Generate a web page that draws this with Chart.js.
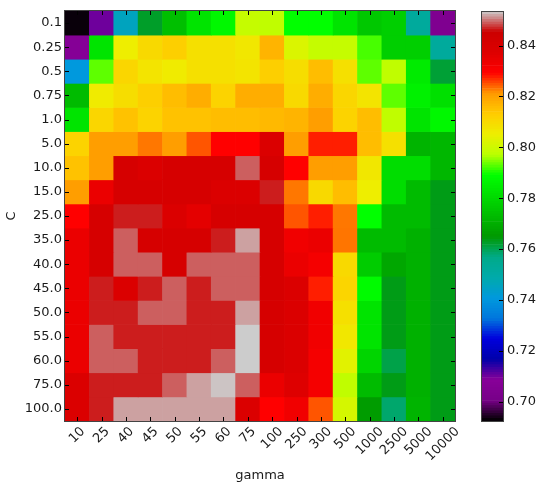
<!DOCTYPE html>
<html>
<head>
<meta charset="utf-8">
<script src="https://cdn.jsdelivr.net/npm/chart.js@4/dist/chart.umd.min.js"></script>
<style>
  body { margin: 0; background: #fff; }
  #cadre { position: relative; width: 550px; height: 487px; }
  #heatmap { position: absolute; left: 0; top: 0; }
  #barre { position: absolute; left: 470px; top: 0; }
</style>
</head>
<body>
<div id="cadre">
  <canvas id="heatmap" width="550" height="487"></canvas>
  <canvas id="barre" width="80" height="487"></canvas>
</div>
<script>
// Axes
const gammas = ["10", "25", "40", "45", "50", "55", "60", "75", "100", "250", "300", "500", "1000", "2500", "5000", "10000"];
const valeursC = ["0.1", "0.25", "0.5", "0.75", "1.0", "5.0", "10.0", "15.0", "25.0", "35.0", "40.0", "45.0", "50.0", "55.0", "60.0", "75.0", "100.0"];
const ticksBarre = [0.70, 0.72, 0.74, 0.76, 0.78, 0.80, 0.82, 0.84];

// Scores, une ligne par valeur de C (colonnes = gamma)
const scoresC0_1 = [0.6930, 0.7100, 0.7455, 0.7624, 0.7737, 0.7825, 0.7873, 0.7986, 0.7978, 0.7890, 0.7890, 0.7825, 0.7760, 0.7777, 0.7520, 0.7040];
const scoresC0_25 = [0.7069, 0.7825, 0.8050, 0.8099, 0.8123, 0.8083, 0.8083, 0.8066, 0.8168, 0.8018, 0.7986, 0.7986, 0.7920, 0.7777, 0.7777, 0.7520];
const scoresC0_5 = [0.7407, 0.7930, 0.8107, 0.8075, 0.8058, 0.8083, 0.8083, 0.8075, 0.8123, 0.8090, 0.8155, 0.8083, 0.7930, 0.7978, 0.7841, 0.7616];
const scoresC0_75 = [0.7729, 0.8058, 0.8090, 0.8123, 0.8155, 0.8180, 0.8115, 0.8180, 0.8180, 0.8099, 0.8180, 0.8107, 0.8075, 0.7930, 0.7857, 0.7817];
const scoresC1 = [0.7825, 0.8107, 0.8147, 0.8115, 0.8147, 0.8147, 0.8155, 0.8155, 0.8160, 0.8168, 0.8203, 0.8115, 0.8155, 0.7978, 0.7825, 0.7873];
const scoresC5 = [0.8115, 0.8203, 0.8203, 0.8229, 0.8203, 0.8247, 0.8292, 0.8292, 0.8380, 0.8203, 0.8276, 0.8276, 0.8155, 0.8083, 0.7713, 0.7720];
const scoresC10 = [0.8147, 0.8203, 0.8404, 0.8380, 0.8404, 0.8404, 0.8404, 0.8490, 0.8404, 0.8292, 0.8203, 0.8203, 0.8066, 0.7810, 0.7810, 0.7720];
const scoresC15 = [0.8203, 0.8340, 0.8404, 0.8404, 0.8404, 0.8404, 0.8380, 0.8380, 0.8464, 0.8229, 0.8099, 0.8155, 0.8050, 0.7810, 0.7729, 0.7635];
const scoresC25 = [0.8292, 0.8404, 0.8464, 0.8464, 0.8380, 0.8356, 0.8404, 0.8404, 0.8404, 0.8247, 0.8276, 0.8229, 0.7890, 0.7729, 0.7729, 0.7635];
const scoresC35 = [0.8340, 0.8404, 0.8490, 0.8404, 0.8404, 0.8404, 0.8464, 0.8516, 0.8404, 0.8324, 0.8340, 0.8230, 0.7729, 0.7729, 0.7705, 0.7635];
const scoresC40 = [0.8340, 0.8404, 0.8490, 0.8490, 0.8404, 0.8490, 0.8490, 0.8490, 0.8404, 0.8340, 0.8316, 0.8099, 0.7769, 0.7681, 0.7705, 0.7635];
const scoresC45 = [0.8340, 0.8464, 0.8380, 0.8464, 0.8490, 0.8464, 0.8490, 0.8490, 0.8404, 0.8380, 0.8276, 0.8110, 0.7880, 0.7635, 0.7705, 0.7635];
const scoresC50 = [0.8340, 0.8464, 0.8464, 0.8490, 0.8490, 0.8464, 0.8464, 0.8516, 0.8404, 0.8380, 0.8324, 0.8083, 0.7825, 0.7635, 0.7705, 0.7635];
const scoresC55 = [0.8340, 0.8490, 0.8464, 0.8464, 0.8464, 0.8464, 0.8464, 0.8533, 0.8404, 0.8380, 0.8324, 0.8066, 0.7825, 0.7635, 0.7705, 0.7635];
const scoresC60 = [0.8340, 0.8490, 0.8490, 0.8464, 0.8464, 0.8464, 0.8490, 0.8533, 0.8404, 0.8380, 0.8316, 0.8030, 0.7790, 0.7605, 0.7705, 0.7635];
const scoresC75 = [0.8380, 0.8464, 0.8464, 0.8464, 0.8490, 0.8516, 0.8530, 0.8490, 0.8340, 0.8370, 0.8316, 0.7978, 0.7729, 0.7635, 0.7705, 0.7635];
const scoresC100 = [0.8380, 0.8464, 0.8516, 0.8516, 0.8516, 0.8516, 0.8516, 0.8380, 0.8292, 0.8324, 0.8247, 0.8010, 0.7656, 0.7584, 0.7713, 0.7635];

const scores = [scoresC0_1, scoresC0_25, scoresC0_5, scoresC0_75, scoresC1, scoresC5, scoresC10, scoresC15,
  scoresC25, scoresC35, scoresC40, scoresC45, scoresC50, scoresC55, scoresC60, scoresC75, scoresC100];

const vmin = 0.6924;
const vmax = 0.8533;

// Palette nipy_spectral (21 points de 0 à 1)
const nipyR = [0, 0.4667, 0.5333, 0, 0, 0, 0, 0, 0, 0, 0, 0, 0, 0.7333, 0.9333, 1, 1, 1, 0.8667, 0.8, 0.8];
const nipyG = [0, 0, 0, 0, 0, 0.4667, 0.6, 0.6667, 0.6667, 0.6, 0.7333, 0.8667, 1, 1, 0.9333, 0.8, 0.6, 0, 0, 0, 0.8];
const nipyB = [0, 0.5333, 0.6, 0.6667, 0.8667, 0.8667, 0.8667, 0.6667, 0.5333, 0, 0, 0, 0, 0, 0, 0, 0, 0, 0, 0, 0.8];

function couleur(v) {
  let t = (v - vmin) / (vmax - vmin);
  t = Math.max(0, Math.min(1, t));
  const p = t * 20;
  const i = Math.min(19, Math.floor(p));
  const f = p - i;
  const r = Math.round(255 * (nipyR[i] + (nipyR[i + 1] - nipyR[i]) * f));
  const g = Math.round(255 * (nipyG[i] + (nipyG[i + 1] - nipyG[i]) * f));
  const b = Math.round(255 * (nipyB[i] + (nipyB[i + 1] - nipyB[i]) * f));
  return `rgb(${r}, ${g}, ${b})`;
}

const police = '"DejaVu Sans", sans-serif';
const couleurTexte = "#1a1a1a";

// Cadre + petites graduations vers l'intérieur
const cadreHeatmap = {
  id: "cadreHeatmap",
  afterDatasetsDraw(chart) {
    const ctx = chart.ctx;
    const a = chart.chartArea;
    const x = chart.scales.x;
    const y = chart.scales.y;
    ctx.save();
    ctx.strokeStyle = "#000";
    ctx.lineWidth = 1;
    ctx.beginPath();
    for (let i = 0; i < gammas.length; i++) {
      const px = Math.round(x.getPixelForValue(i)) + 0.5;
      ctx.moveTo(px, a.bottom); ctx.lineTo(px, a.bottom - 4);
      ctx.moveTo(px, a.top); ctx.lineTo(px, a.top + 4);
    }
    for (let j = 0; j < valeursC.length; j++) {
      const py = Math.round(y.getPixelForValue(j)) + 0.5;
      ctx.moveTo(a.left, py); ctx.lineTo(a.left + 4, py);
      ctx.moveTo(a.right, py); ctx.lineTo(a.right - 4, py);
    }
    ctx.stroke();
    ctx.strokeStyle = "#444";
    ctx.strokeRect(Math.round(a.left) - 0.5, Math.round(a.top) - 0.5, Math.round(a.right - a.left) + 1, Math.round(a.bottom - a.top) + 1);
    ctx.restore();
  },
  afterDraw(chart) {
    // étiquettes gamma tournées à 45°, centrées sur la graduation
    const ctx = chart.ctx;
    const x = chart.scales.x;
    const haut = chart.chartArea.bottom + 5;
    ctx.save();
    ctx.font = "13px " + police;
    ctx.fillStyle = couleurTexte;
    ctx.textAlign = "center";
    ctx.textBaseline = "middle";
    for (let i = 0; i < gammas.length; i++) {
      const w = ctx.measureText(gammas[i]).width;
      const demi = (w + 10) * Math.SQRT1_2 / 2;
      ctx.save();
      ctx.translate(x.getPixelForValue(i), haut + demi);
      ctx.rotate(-Math.PI / 4);
      ctx.fillText(gammas[i], 0, 0);
      ctx.restore();
    }
    ctx.restore();
  }
};

const datasetsHeatmap = scores.map((ligne, r) => ({
  label: valeursC[r],
  data: ligne.map(() => [r - 0.5, r + 0.5]),
  backgroundColor: ligne.map((v) => couleur(v)),
  borderWidth: 0,
  grouped: false,
  barPercentage: 1,
  categoryPercentage: 1,
}));

new Chart(document.querySelector("#heatmap"), {
  type: "bar",
  data: { labels: gammas, datasets: datasetsHeatmap },
  options: {
    responsive: false,
    animation: false,
    layout: { padding: { top: 11, right: 95, left: 0, bottom: 0 } },
    plugins: { legend: { display: false }, tooltip: { enabled: false } },
    scales: {
      x: {
        grid: { display: false, drawTicks: false },
        border: { display: false },
        ticks: { display: false },
        title: { display: true, text: "gamma", color: couleurTexte, font: { family: police, size: 13 } },
        afterFit(scale) { scale.height = 66; },
      },
      y: {
        min: -0.5,
        max: 16.5,
        reverse: true,
        grid: { display: false, drawTicks: false },
        border: { display: false },
        afterBuildTicks(scale) { scale.ticks = valeursC.map((_, i) => ({ value: i })); },
        ticks: {
          autoSkip: false,
          padding: 3,
          color: couleurTexte,
          font: { family: police, size: 13 },
          callback: (v) => valeursC[v],
        },
        title: { display: true, text: "C", color: couleurTexte, font: { family: police, size: 13 } },
        afterFit(scale) { scale.width = 65; },
      },
    },
  },
  plugins: [cadreHeatmap],
});

// Barre de couleurs
const nbPas = 160;
const pas = (vmax - vmin) / nbPas;
const datasetsBarre = [];
for (let k = 0; k < nbPas; k++) {
  const bas = vmin + k * pas;
  datasetsBarre.push({
    data: [[bas, bas + pas * 1.02]],
    backgroundColor: couleur(bas + pas / 2),
    borderWidth: 0,
    grouped: false,
    barPercentage: 1,
    categoryPercentage: 1,
  });
}

const cadreBarre = {
  id: "cadreBarre",
  afterDatasetsDraw(chart) {
    const ctx = chart.ctx;
    const a = chart.chartArea;
    const y = chart.scales.y;
    ctx.save();
    ctx.strokeStyle = "#000";
    ctx.lineWidth = 1;
    ctx.beginPath();
    for (const t of ticksBarre) {
      const py = Math.round(y.getPixelForValue(t)) + 0.5;
      ctx.moveTo(a.right, py); ctx.lineTo(a.right - 4, py);
    }
    ctx.stroke();
    ctx.strokeStyle = "#444";
    ctx.strokeRect(Math.round(a.left) - 0.5, Math.round(a.top) - 0.5, Math.round(a.right - a.left) + 1, Math.round(a.bottom - a.top) + 1);
    ctx.restore();
  }
};

new Chart(document.querySelector("#barre"), {
  type: "bar",
  data: { labels: [""], datasets: datasetsBarre },
  options: {
    responsive: false,
    animation: false,
    layout: { padding: { top: 11, left: 12, right: 0, bottom: 66 } },
    plugins: { legend: { display: false }, tooltip: { enabled: false } },
    scales: {
      x: { display: false },
      y: {
        position: "right",
        min: vmin,
        max: vmax,
        grid: { display: false, drawTicks: false },
        border: { display: false },
        afterBuildTicks(scale) { scale.ticks = ticksBarre.map((v) => ({ value: v })); },
        ticks: {
          padding: 4,
          color: couleurTexte,
          font: { family: police, size: 13 },
          callback: (v) => v.toFixed(2),
        },
        afterFit(scale) { scale.width = 47; },
      },
    },
  },
  plugins: [cadreBarre],
});
</script>
</body>
</html>
